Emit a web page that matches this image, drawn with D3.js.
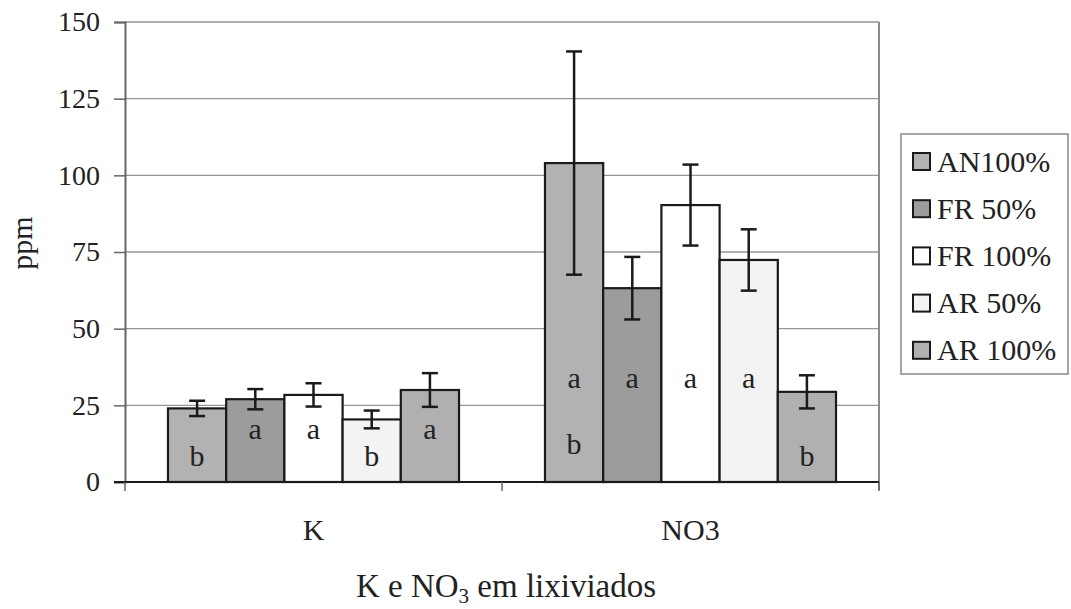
<!DOCTYPE html>
<html>
<head>
<meta charset="utf-8">
<script src="https://cdn.jsdelivr.net/npm/d3@7"></script>
<style>
  html, body { margin: 0; padding: 0; background: #fff; }
  svg text { font-family: "Liberation Serif", Tinos, "Times New Roman", Times, "Nimbus Roman", "DejaVu Serif", serif !important; fill: #222; }
</style>
</head>
<body>
<svg id="chart" width="1071" height="609"></svg>
<script>
// ---- data ----
const categories = ["K", "NO3"];
const seriesNames = ["AN100%", "FR 50%", "FR 100%", "AR 50%", "AR 100%"];
const seriesColors = ["#b2b2b2", "#9c9c9c", "#ffffff", "#f3f3f3", "#b0b0b0"];
// values per series: [K, NO3]
const valAN100 = [24.0, 104.0];
const valFR50  = [27.0, 63.2];
const valFR100 = [28.4, 90.3];
const valAR50  = [20.4, 72.4];
const valAR100 = [30.0, 29.4];
// error (+/-) per series: [K, NO3]
const errAN100 = [2.5, 36.4];
const errFR50  = [3.3, 10.2];
const errFR100 = [3.8, 13.2];
const errAR50  = [2.9, 10.0];
const errAR100 = [5.5, 5.4];
// significance letters per series: [K, NO3] (NO3 AN100% has two letters)
const letAN100 = [["b"], ["a", "b"]];
const letFR50  = [["a"], ["a"]];
const letFR100 = [["a"], ["a"]];
const letAR50  = [["b"], ["a"]];
const letAR100 = [["a"], ["b"]];
// level (ppm) at which each letter sits, by letter kind and category
const letterLevelK   = { a: 17.3, b: 8.8 };
const letterLevelNO3 = { a: 34.0, b: 12.7 };
const letterLevelNO3Last = 8.8;
const yTicks = [0, 25, 50, 75, 100, 125, 150];

const values = [valAN100, valFR50, valFR100, valAR50, valAR100];
const errors = [errAN100, errFR50, errFR100, errAR50, errAR100];
const letters = [letAN100, letFR50, letFR100, letAR50, letAR100];

// ---- layout ----
const svg = d3.select("#chart");
const pLeft = 125, pRight = 879, pTop = 22, pBottom = 482;
const font = 28;

const x0 = d3.scaleBand().domain(categories).range([pLeft, pRight])
  .paddingInner(0.228).paddingOuter(0.114);
const x1 = d3.scaleBand().domain(seriesNames).range([0, x0.bandwidth()]).padding(0);
const y = d3.scaleLinear().domain([0, 150]).range([pBottom, pTop]);

// gridlines
svg.append("g").selectAll("line").data(yTicks.filter(t => t > 0)).join("line")
  .attr("x1", pLeft).attr("x2", pRight)
  .attr("y1", d => y(d)).attr("y2", d => y(d))
  .attr("stroke", "#969696").attr("stroke-width", 1.3);
// right border
svg.append("line").attr("x1", pRight).attr("x2", pRight).attr("y1", pTop).attr("y2", pBottom + 8)
  .attr("stroke", "#8a8a8a").attr("stroke-width", 2);

// y axis
const yAxis = d3.axisLeft(y).tickValues(yTicks).tickSize(11).tickPadding(14);
const gy = svg.append("g").attr("transform", `translate(${pLeft},0)`).call(yAxis);
gy.select(".domain").attr("stroke", "#666").attr("stroke-width", 2);
gy.selectAll(".tick line").attr("stroke", "#666").attr("stroke-width", 1.5);
gy.selectAll(".tick text").style("font-size", font + "px").attr("fill", "#222");

// bars
const groups = svg.append("g").selectAll("g").data(categories).join("g")
  .attr("transform", d => `translate(${x0(d)},0)`);

categories.forEach((cat, ci) => {
  const g = groups.filter(d => d === cat);
  const recs = seriesNames.map((s, si) => ({
    s, si, v: values[si][ci], e: errors[si][ci], l: letters[si][ci]
  }));
  g.selectAll("rect").data(recs).join("rect")
    .attr("x", d => x1(d.s)).attr("width", x1.bandwidth())
    .attr("y", d => y(d.v)).attr("height", d => y(0) - y(d.v))
    .attr("fill", d => seriesColors[d.si]).attr("stroke", "#1a1a1a").attr("stroke-width", 2.2);
  // error bars
  const cap = 8;
  recs.forEach(d => {
    const cx = x1(d.s) + x1.bandwidth() / 2;
    g.append("line").attr("x1", cx).attr("x2", cx).attr("y1", y(d.v + d.e)).attr("y2", y(d.v - d.e))
      .attr("stroke", "#1a1a1a").attr("stroke-width", 2.5);
    [d.v + d.e, d.v - d.e].forEach(v => {
      g.append("line").attr("x1", cx - cap).attr("x2", cx + cap).attr("y1", y(v)).attr("y2", y(v))
        .attr("stroke", "#1a1a1a").attr("stroke-width", 2.5);
    });
    // letters
    d.l.forEach(letter => {
      let lv;
      if (cat === "K") lv = letterLevelK[letter];
      else if (d.si === seriesNames.length - 1) lv = letterLevelNO3Last;
      else lv = letterLevelNO3[letter];
      g.append("text").attr("x", cx).attr("y", y(lv)).attr("dy", "0.35em")
        .attr("text-anchor", "middle").style("font-size", "30px").text(letter);
    });
  });
});

// x axis line
svg.append("line").attr("x1", pLeft - 11).attr("x2", pRight).attr("y1", pBottom).attr("y2", pBottom)
  .attr("stroke", "#1a1a1a").attr("stroke-width", 2);
// category separator ticks
const sepX = [pLeft, (x0(categories[0]) + x0.bandwidth() + x0(categories[1])) / 2, pRight];
svg.append("g").selectAll("line").data(sepX).join("line")
  .attr("x1", d => d).attr("x2", d => d).attr("y1", pBottom).attr("y2", pBottom + 9)
  .attr("stroke", "#666").attr("stroke-width", 1.5);
// category labels
svg.append("g").selectAll("text").data(categories).join("text")
  .attr("x", d => x0(d) + x0.bandwidth() / 2).attr("y", 540)
  .attr("text-anchor", "middle").style("font-size", "30px").text(d => d);

// axis titles
svg.append("text").attr("transform", "translate(32,243) rotate(-90)")
  .attr("text-anchor", "middle").style("font-size", "30px").text("ppm");
const xt = svg.append("text").attr("x", 506).attr("y", 597).attr("text-anchor", "middle")
  .style("font-size", "33px");
xt.append("tspan").text("K e NO");
xt.append("tspan").attr("dy", 6).style("font-size", "21px").text("3");
xt.append("tspan").attr("dy", -6).text(" em lixiviados");

// legend
const lg = svg.append("g");
lg.append("rect").attr("x", 901).attr("y", 134).attr("width", 167).attr("height", 240)
  .attr("fill", "#fff").attr("stroke", "#888").attr("stroke-width", 1.5);
const items = lg.selectAll("g.item").data(seriesNames).join("g").attr("class", "item")
  .attr("transform", (d, i) => `translate(913,${161 + i * 47.2})`);
items.append("rect").attr("x", 0).attr("y", -8).attr("width", 17).attr("height", 17)
  .attr("fill", (d, i) => seriesColors[i]).attr("stroke", "#1a1a1a").attr("stroke-width", 2);
items.append("text").attr("x", 24).attr("dy", "0.35em").style("font-size", "30px").text(d => d);
</script>
</body>
</html>
